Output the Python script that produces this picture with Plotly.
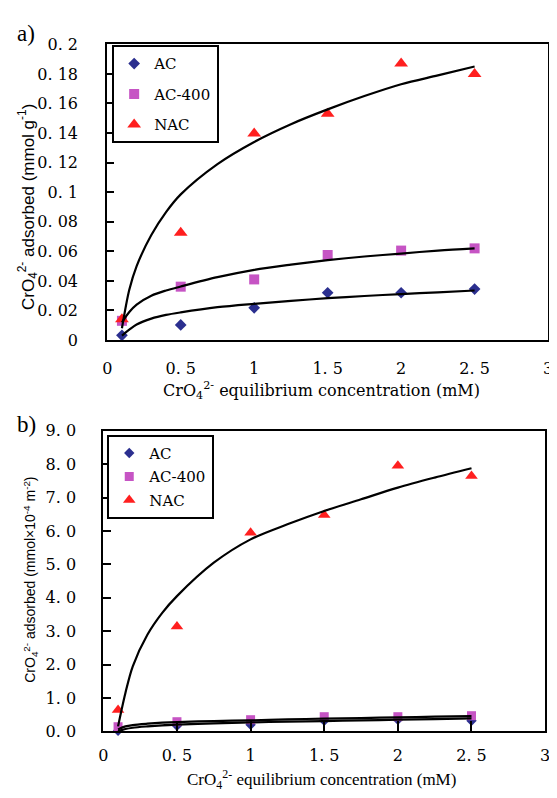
import plotly.graph_objects as go

# The page body has an 8 px margin, so the figure is drawn 8 px right/down.
OFF = 8
W, H = 557 - OFF, 798 - OFF

# ---------------- data ----------------
series_names = ["AC", "AC-400", "NAC"]
x_pts = [0.1, 0.5, 1.0, 1.5, 2.0, 2.5]

# panel a: CrO4 2- adsorbed (mmol g-1)
a_ac = [0.0032, 0.0102, 0.0218, 0.0320, 0.0320, 0.0345]
a_ac400 = [0.0130, 0.0361, 0.0410, 0.0575, 0.0605, 0.0620]
a_nac = [0.0140, 0.0725, 0.1397, 0.1530, 0.1870, 0.1800]

# fitted curves
fit_x = [0.1, 0.15, 0.2, 0.3, 0.4, 0.5, 0.75, 1.0, 1.25, 1.5, 1.75, 2.0, 2.25, 2.5]
a_ac_fit = [0.0030, 0.0070, 0.0105, 0.0145, 0.0170, 0.0187, 0.0222, 0.0245, 0.0265, 0.0283, 0.0298, 0.0311, 0.0323, 0.0335]
a_ac400_fit = [0.0120, 0.0190, 0.0240, 0.0300, 0.0335, 0.0362, 0.0425, 0.0475, 0.0510, 0.0540, 0.0565, 0.0585, 0.0605, 0.0620]
a_nac_fit = [0.0080, 0.0340, 0.0500, 0.0710, 0.0865, 0.0985, 0.1190, 0.1340, 0.1460, 0.1560, 0.1650, 0.1730, 0.1790, 0.1850]

# panel b: CrO4 2- adsorbed (mmol x 10^-4 m-2)
b_ac = [0.02, 0.17, 0.20, 0.32, 0.35, 0.32]
b_ac400 = [0.14, 0.29, 0.35, 0.44, 0.44, 0.47]
b_nac = [0.64, 3.14, 5.95, 6.48, 7.95, 7.65]

b_ac_fit = [0.00, 0.07, 0.11, 0.15, 0.18, 0.20, 0.24, 0.27, 0.29, 0.31, 0.33, 0.35, 0.37, 0.39]
b_ac400_fit = [0.06, 0.15, 0.19, 0.23, 0.26, 0.28, 0.31, 0.33, 0.36, 0.38, 0.40, 0.42, 0.44, 0.46]
b_nac_fit = [0.15, 1.15, 1.95, 2.90, 3.55, 4.05, 5.05, 5.75, 6.20, 6.60, 6.95, 7.30, 7.60, 7.88]

# tick labels
x_tickvals = [0, 0.5, 1, 1.5, 2, 2.5, 3]
x_ticktext = ["0", "0. 5", "1", "1. 5", "2", "2. 5", "3"]
a_y_tickvals = [0, 0.02, 0.04, 0.06, 0.08, 0.1, 0.12, 0.14, 0.16, 0.18, 0.2]
a_y_ticktext = ["0", "0. 02", "0. 04", "0. 06", "0. 08", "0. 1", "0. 12", "0. 14", "0. 16", "0. 18", "0. 2"]
b_y_tickvals = [0, 1, 2, 3, 4, 5, 6, 7, 8, 9]
b_y_ticktext = ["0. 0", "1. 0", "2. 0", "3. 0", "4. 0", "5. 0", "6. 0", "7. 0", "8. 0", "9. 0"]

# ---------------- styles ----------------
colors = {"AC": "#2b2f8f", "AC-400": "#c654c4", "NAC": "#ff1f1f"}
symbols = {"AC": "diamond", "AC-400": "square", "NAC": "triangle-up"}
sizes_a = {"AC": 9, "AC-400": 10, "NAC": 12}
sizes_b = {"AC": 8, "AC-400": 9, "NAC": 11}

SERIF = "DejaVu Serif"
TIMES = "Liberation Serif"
SANS = "Liberation Sans"


def px_x(p):
    """screen x pixel -> paper fraction"""
    return (p - OFF) / W


def px_y(p):
    """screen y pixel -> paper fraction"""
    return 1 - (p - OFF) / H


fig = go.Figure()

panels = [
    ("x", "y", "legend", [a_ac, a_ac400, a_nac], [a_ac_fit, a_ac400_fit, a_nac_fit], sizes_a),
    ("x2", "y2", "legend2", [b_ac, b_ac400, b_nac], [b_ac_fit, b_ac400_fit, b_nac_fit], sizes_b),
]

for xa, ya, leg, pts, fits, sizes in panels:
    for name, vals in zip(series_names, pts):
        fig.add_trace(go.Scatter(
            x=x_pts, y=vals, mode="markers", name=name,
            xaxis=xa, yaxis=ya, legend=leg, legendgroup=leg + name,
            marker=dict(symbol=symbols[name], color=colors[name], size=sizes[name],
                        line=dict(width=0)),
            cliponaxis=False,
        ))
    for name, vals in zip(series_names, fits):
        fig.add_trace(go.Scatter(
            x=fit_x, y=vals, mode="lines", showlegend=False,
            xaxis=xa, yaxis=ya, legend=leg,
            line=dict(color="black", width=2.2, shape="spline", smoothing=0.9),
            hoverinfo="skip",
        ))

axis_common = dict(showline=True, linecolor="black", linewidth=2, mirror=True,
                   showgrid=False, zeroline=False, ticklabeloverflow="allow")

fig.update_layout(
    width=W, height=H,
    margin=dict(l=0, r=0, t=0, b=0),
    paper_bgcolor="white", plot_bgcolor="white",
    showlegend=True,
    xaxis=dict(**axis_common, domain=[px_x(104), px_x(553)], range=[0, 3],
               tickvals=x_tickvals, ticktext=x_ticktext, ticks="",
               ticklabelstandoff=13,
               tickfont=dict(family=SERIF, size=16, color="black"), anchor="y"),
    yaxis=dict(**axis_common, domain=[px_y(339), px_y(36)], range=[0, 0.2],
               tickvals=a_y_tickvals, ticktext=a_y_ticktext, ticks="inside",
               ticklen=7, tickwidth=2, tickcolor="black", ticklabelstandoff=24,
               tickfont=dict(family=SERIF, size=16, color="black"), anchor="x"),
    xaxis2=dict(**axis_common, domain=[px_x(100), px_x(550)], range=[0, 3],
                tickvals=x_tickvals, ticktext=x_ticktext, ticks="inside",
                ticklen=10, tickwidth=2, tickcolor="black", ticklabelstandoff=8,
                tickfont=dict(family=SERIF, size=16, color="black"), anchor="y2"),
    yaxis2=dict(**axis_common, domain=[px_y(740), px_y(432)], range=[0, 9],
                tickvals=b_y_tickvals, ticktext=b_y_ticktext, ticks="inside",
                ticklen=8, tickwidth=2, tickcolor="black", ticklabelstandoff=22,
                tickfont=dict(family=SERIF, size=16, color="black"), anchor="x2"),
    legend=dict(x=px_x(109), y=px_y(37), xanchor="left", yanchor="top",
                bordercolor="black", borderwidth=2, bgcolor="white",
                font=dict(family=SERIF, size=15, color="black"),
                traceorder="grouped", tracegroupgap=8, itemwidth=30),
    legend2=dict(x=px_x(104), y=px_y(436), xanchor="left", yanchor="top",
                 bordercolor="black", borderwidth=2, bgcolor="white",
                 font=dict(family=SERIF, size=15, color="black"),
                 traceorder="grouped", tracegroupgap=1, itemwidth=30),
    annotations=[
        dict(text="a)", x=px_x(10), y=px_y(25), xref="paper", yref="paper",
             xanchor="left", yanchor="middle", showarrow=False,
             font=dict(family=TIMES, size=23, color="black")),
        dict(text="b)", x=px_x(10), y=px_y(426), xref="paper", yref="paper",
             xanchor="left", yanchor="middle", showarrow=False,
             font=dict(family=TIMES, size=23, color="black")),
        dict(text="CrO<sub>4</sub><sup>2-</sup> adsorbed (mmol g<sup>-1</sup>)",
             x=px_x(23), y=px_y(203), xref="paper", yref="paper", textangle=-90,
             xanchor="center", yanchor="middle", showarrow=False,
             font=dict(family=SANS, size=17, color="black")),
        dict(text="CrO<sub>4</sub><sup>2-</sup> equilibrium concentration (mM)",
             x=px_x(322), y=px_y(391), xref="paper", yref="paper",
             xanchor="center", yanchor="middle", showarrow=False,
             font=dict(family=SERIF, size=16, color="black")),
        dict(text="CrO<sub>4</sub><sup>2-</sup> adsorbed (mmol×10<sup>-4</sup> m<sup>-2</sup>)",
             x=px_x(26), y=px_y(585), xref="paper", yref="paper", textangle=-90,
             xanchor="center", yanchor="middle", showarrow=False,
             font=dict(family=SANS, size=14, color="black")),
        dict(text="CrO<sub>4</sub><sup>2-</sup> equilibrium concentration (mM)",
             x=px_x(322), y=px_y(789), xref="paper", yref="paper",
             xanchor="center", yanchor="middle", showarrow=False,
             font=dict(family=TIMES, size=17, color="black")),
    ],
)

fig.write_html("out.html")
